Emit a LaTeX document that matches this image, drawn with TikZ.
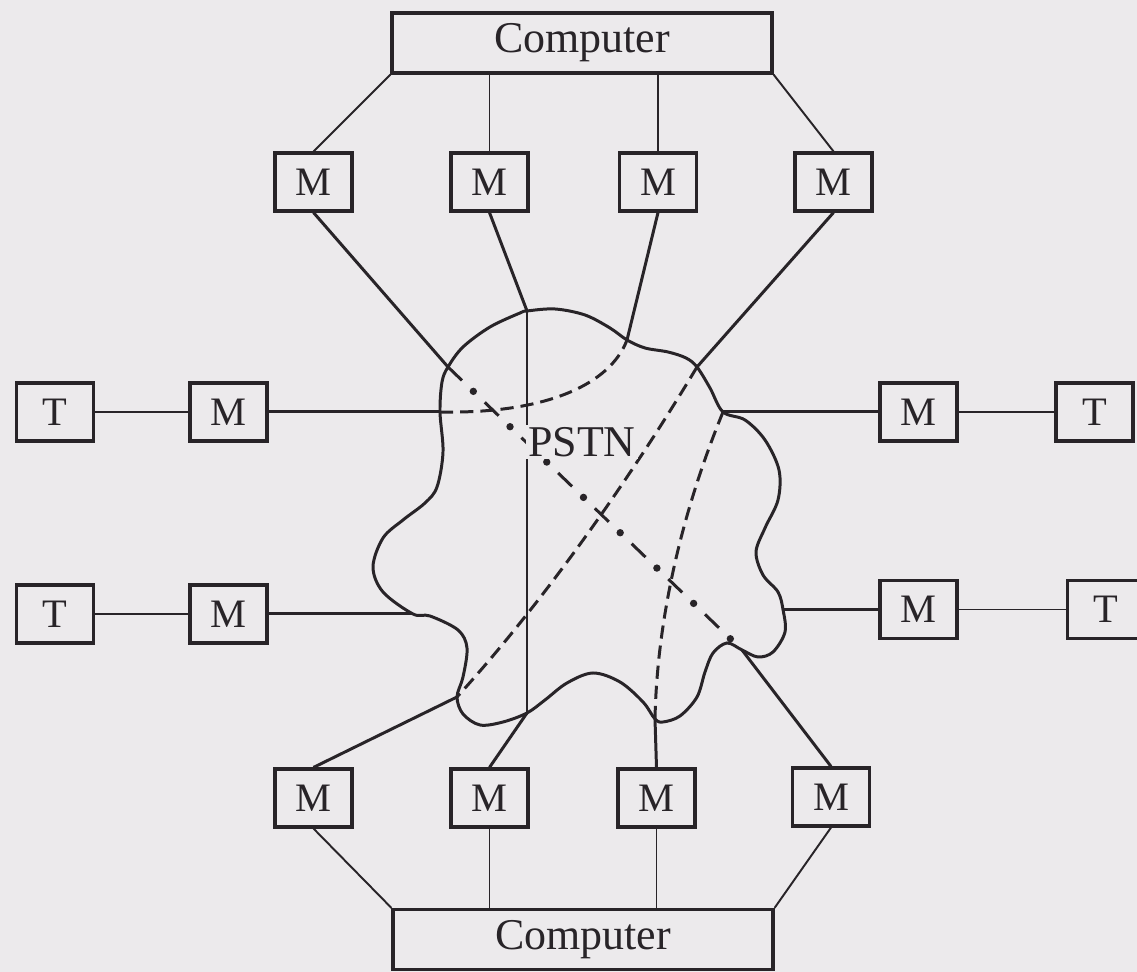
\documentclass[tikz,border=0pt]{standalone}
\usepackage{fontspec}
\setmainfont{Liberation Serif}
\definecolor{paper}{RGB}{236,234,236}
\definecolor{ink}{RGB}{40,36,40}

\begin{document}
\begin{tikzpicture}[
  color=ink,
  font=\fontsize{23}{28}\selectfont,
  modem/.style={draw=ink,fill=paper,line width=1.8pt,inner sep=0pt,
    minimum width=1.54cm,minimum height=1.16cm},
  host/.style={modem,minimum width=7.6cm,minimum height=1.2cm,
    font=\fontsize{25}{30}\selectfont},
  tap/.style={draw=ink,line width=1.1pt},
  wire/.style={draw=ink,line width=1.7pt},
  route/.style={wire,dash pattern=on 7.5pt off 4pt},
  lbl/.style={font=\fontsize{25}{30}\selectfont,fill=paper,inner sep=1.5pt}]

% page: 22.74 x 19.44 cm (50 px per cm)
\fill[paper] (0,0) rectangle (22.74,19.44);
\useasboundingbox (0,0) rectangle (22.74,19.44);

% ---- computers and their modems ----
\node[host] (ctop) at (11.64,18.58) {Computer};
\node[host] (cbot) at (11.66,0.65) {Computer};
\node[modem] (mt1) at (6.27,15.80) {M};
\node[modem] (mt2) at (9.79,15.80) {M};
\node[modem] (mt3) at (13.16,15.80) {M};
\node[modem] (mt4) at (16.67,15.80) {M};
\node[modem] (mb1) at (6.27,3.48) {M};
\node[modem] (mb2) at (9.79,3.48) {M};
\node[modem] (mb3) at (13.13,3.48) {M};
\node[modem] (mb4) at (16.62,3.50) {M};

% ---- terminals with their modems ----
\node[modem] (tl1) at (1.10,11.20) {T};
\node[modem] (ml1) at (4.57,11.20) {M};
\node[modem] (tl2) at (1.10,7.16) {T};
\node[modem] (ml2) at (4.57,7.16) {M};
\node[modem] (mr1) at (18.37,11.20) {M};
\node[modem] (tr1) at (21.89,11.20) {T};
\node[modem] (mr2) at (18.37,7.25) {M};
\node[modem] (tr2) at (22.12,7.25) {T};

% where the lines meet the cloud
\coordinate (jT1) at (8.96,12.10);
\coordinate (jT2) at (10.54,13.22);
\coordinate (jT3) at (12.54,12.64);
\coordinate (jT4) at (13.94,12.10);
\coordinate (jR1) at (14.46,11.20);
\coordinate (jR2) at (15.66,7.25);
\coordinate (jB4) at (14.84,6.44);
\coordinate (jB3) at (13.10,5.06);
\coordinate (jB2) at (10.54,5.18);
\coordinate (jB1) at (9.14,5.50);
\coordinate (jL2) at (8.26,7.16);
\coordinate (jL1) at (8.80,11.20);

% ---- PSTN cloud ----
\draw[wire] plot[smooth cycle,tension=0.55] coordinates {
  (jT2) (11.10,13.26) (11.70,13.14) (12.20,12.88) (jT3) (12.90,12.48)
  (13.36,12.40) (13.72,12.28) (jT4) (14.20,11.68) (jR1) (14.90,11.04)
  (15.30,10.64) (15.58,10.04) (15.56,9.44) (15.30,8.88) (15.12,8.40)
  (15.26,7.94) (15.56,7.60) (jR2) (15.70,6.80) (15.46,6.40) (15.16,6.30)
  (jB4) (14.54,6.58) (14.26,6.38) (14.10,6.00) (13.94,5.50) (13.60,5.12)
  (13.26,5.00) (jB3) (12.86,5.40) (12.40,5.80) (11.86,5.98) (11.34,5.78)
  (10.90,5.44) (jB2) (10.06,5.00) (9.60,4.94) (9.26,5.16) (jB1)
  (9.26,5.90) (9.34,6.48) (9.16,6.84) (8.60,7.12) (jL2) (7.66,7.60)
  (7.46,8.10) (7.66,8.68) (8.06,9.04) (8.50,9.38) (8.74,9.70)
  (8.86,10.40) (jL1) (8.84,11.80) (jT1) (9.26,12.50) (9.80,12.90)
  (10.40,13.18)};

% computer to modem links
\draw[tap] (ctop.south west) -- (mt1.north);
\draw[tap] (mt2.north) -- (mt2.north |- ctop.south);
\draw[tap] (mt3.north) -- (mt3.north |- ctop.south);
\draw[tap] (ctop.south east) -- (mt4.north);
\draw[tap] (cbot.north west) -- (mb1.south);
\draw[tap] (mb2.south) -- (mb2.south |- cbot.north);
\draw[tap] (mb3.south) -- (mb3.south |- cbot.north);
\draw[tap] (cbot.north east) -- (mb4.south);
\draw[tap] (tl1) -- (ml1);
\draw[tap] (tl2) -- (ml2);
\draw[tap] (mr1) -- (tr1);
\draw[tap] (mr2) -- (tr2);

% modem lines into the network
\draw[wire] (mt1.south) -- (jT1);
\draw[wire] (mt2.south) -- (jT2);
\draw[wire] (mt3.south) -- (jT3);
\draw[wire] (mt4.south) -- (jT4);
\draw[wire] (mb1.north) -- (jB1);
\draw[wire] (mb2.north) -- (jB2);
\draw[wire] (mb3.north) -- (jB3);
\draw[wire] (mb4.north) -- (jB4);
\draw[wire] (ml1) -- (jL1);
\draw[wire] (ml2) -- (jL2);
\draw[wire] (mr1) -- (jR1);
\draw[wire] (mr2) -- (jR2);
\draw[tap] (jT2) -- (jB2);

% switched routes through the network
\draw[route] (jL1) .. controls (10.90,11.16) and (12.20,11.74) .. (jT3);
\draw[route] (jT4) .. controls (12.62,9.90) and (10.92,7.46) .. (jB1);
\draw[route] (jR1) .. controls (13.64,9.20) and (13.14,7.06) .. (jB3);
% dash-dot route: dashes, then the dots between them
\draw[wire,dash pattern=on 11pt off 18pt] (jT1) -- (jB4);
\draw[ink,line width=4.2pt,line cap=round,dash pattern=on 0pt off 29pt,
  dash phase=9pt] (jT1) -- (jB4);

\node[lbl] (pstn) at (11.64,10.60) {PSTN};
\end{tikzpicture}
\end{document}
